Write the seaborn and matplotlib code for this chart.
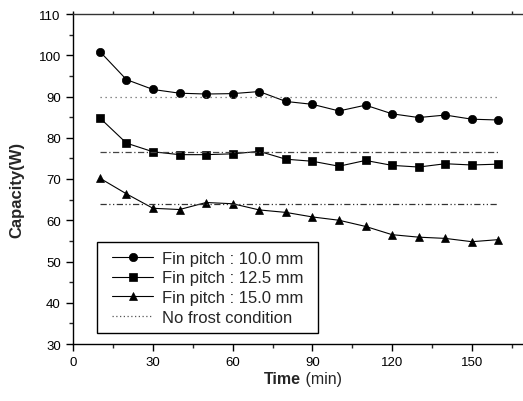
import numpy as np
import pandas as pd
import matplotlib
matplotlib.use("Agg")
import matplotlib.pyplot as plt
import seaborn as sns
from matplotlib.ticker import MultipleLocator
from matplotlib.lines import Line2D
from matplotlib.legend_handler import HandlerLine2D

time_min = [10, 20, 30, 40, 50, 60, 70, 80, 90, 100, 110, 120, 130, 140, 150, 160]
fp_10 = [100.9, 94.1, 91.7, 90.8, 90.6, 90.7, 91.2, 88.8, 88.1, 86.5, 87.9, 85.8, 84.9, 85.5, 84.5, 84.3]
fp_12_5 = [84.8, 78.7, 76.6, 75.9, 75.9, 76.1, 76.7, 74.8, 74.3, 73.1, 74.5, 73.3, 72.9, 73.7, 73.4, 73.6]
fp_15 = [70.2, 66.4, 62.9, 62.6, 64.3, 64.0, 62.5, 61.9, 60.8, 60.0, 58.5, 56.5, 55.9, 55.6, 54.8, 55.3]
no_frost = [90.0, 76.5, 64.0]
labels = ["Fin pitch : 10.0 mm", "Fin pitch : 12.5 mm", "Fin pitch : 15.0 mm"]

sns.set_theme(style="white")
plt.rcParams['font.family'] = ['Liberation Sans', 'DejaVu Sans']

fig = plt.figure(figsize=(5.23, 4.02), dpi=100)
ax = fig.add_axes([73.3/523, 1-345/402, (525-73.3)/523, (345-15)/402])

df = pd.DataFrame({
    "Time": time_min * 3,
    "Capacity": fp_10 + fp_12_5 + fp_15,
    "Series": sum([[l] * len(time_min) for l in labels], []),
})

markers = ["o", "s", "^"]
msizes = [6.0, 5.5, 6.3]
for lab, mk, ms in zip(labels, markers, msizes):
    sub = df[df["Series"] == lab]
    sns.lineplot(data=sub, x="Time", y="Capacity", ax=ax, color="black", lw=0.8,
                 marker=mk, markersize=ms, markeredgecolor="black", markeredgewidth=0.5,
                 markerfacecolor="black", label=lab)

styles = [(0, (1, 3)), (0, (5, 2, 1, 2)), (0, (5, 2, 1, 2, 1, 2))]
cols = ["#666666", "#444444", "#333333"]
for val, ls, c in zip(no_frost, styles, cols):
    ax.plot([time_min[0], time_min[-1]], [val, val], color=c, lw=0.9, linestyle=ls)

ax.set_xlim(0, 170)
ax.set_ylim(30, 110)
ax.xaxis.set_major_locator(MultipleLocator(30))
ax.xaxis.set_minor_locator(MultipleLocator(15))
ax.yaxis.set_major_locator(MultipleLocator(10))
ax.yaxis.set_minor_locator(MultipleLocator(5))

ax.tick_params(axis="both", which="major", direction="out", length=5, width=1, labelsize=9.5, colors="black")
ax.tick_params(axis="y", which="major", pad=4)
ax.tick_params(axis="x", which="major", pad=4)
ax.tick_params(axis="both", which="minor", direction="out", length=3, width=1)
ax.tick_params(axis="x", which="both", top=True, bottom=True, labeltop=False)
for t in ax.xaxis.get_ticklines(minor=False)[1::2] + ax.xaxis.get_ticklines(minor=True)[1::2]:
    t.set_markersize(2)
ax.tick_params(axis="y", which="both", left=True, right=False)
for s in ["left", "bottom", "top"]:
    ax.spines[s].set_color("black")
    ax.spines[s].set_linewidth(1.0)
ax.spines["top"].set_color("#333333")
ax.spines["right"].set_visible(False)

ax.set_xlabel("")
fig.text(301 / 523, 1 - 380 / 402, "Time", fontsize=11.5, fontweight="bold", ha="right", va="center")
fig.text(301 / 523, 1 - 380 / 402, " (min)", fontsize=11.5, ha="left", va="center")
ax.set_ylabel("Capacity(W)", fontsize=12, fontweight="bold")
ax.yaxis.set_label_coords(-(73.3 - 24) / (525 - 73.3), (345 - 190) / 330)

h, l = ax.get_legend_handles_labels()
h.append(Line2D([], [], color="#555555", lw=0.9, linestyle=(0, (1, 2))))
l.append("No frost condition")
hmap = {hh: HandlerLine2D(xpad=0.42) for hh in h}
leg = ax.legend(h, l, loc="lower left", bbox_to_anchor=(97/523, 1-334/402, 221/523, 91/402),
                bbox_transform=fig.transFigure, mode="expand", handler_map=hmap,
                frameon=True, fancybox=False, edgecolor="black", fontsize=12, handlelength=2.87,
                handletextpad=0.52, labelspacing=0.28, borderpad=0.5, borderaxespad=0)
leg.get_frame().set_linewidth(1.0)
leg.get_frame().set_alpha(1)

fig.savefig("out.png", dpi=100)
